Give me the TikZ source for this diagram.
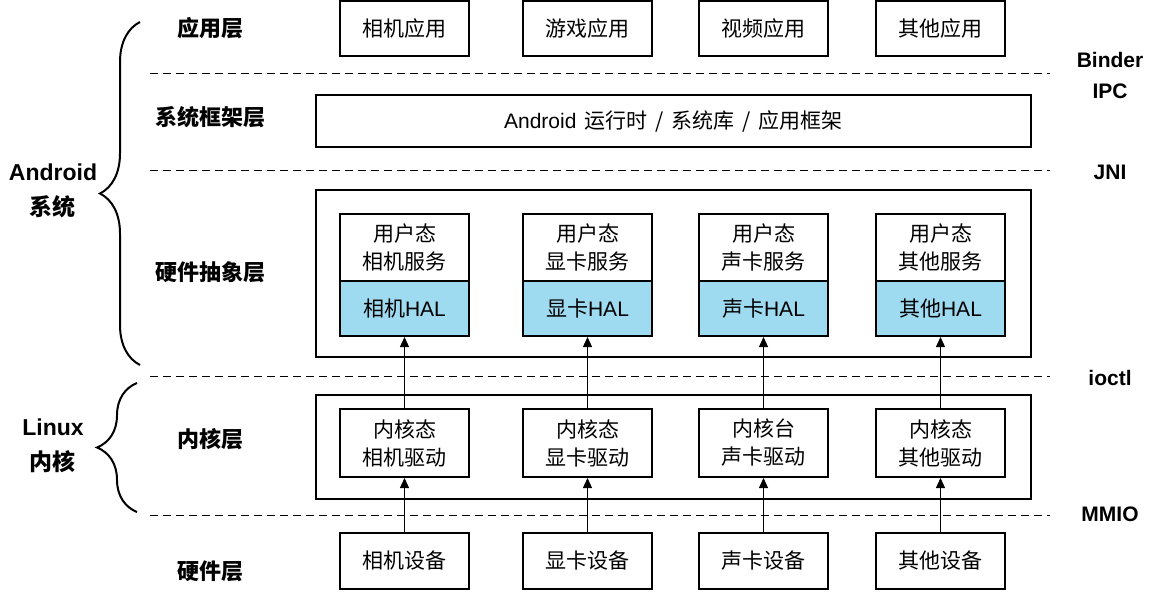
\documentclass[tikz,border=0pt]{standalone}
\usepackage{fontspec}
\setmainfont{Noto Sans CJK SC}
\newfontfamily\lat{Liberation Sans}
\usetikzlibrary{arrows.meta,decorations.pathreplacing}
\definecolor{halblue}{RGB}{158,218,240}

\begin{document}
\begin{tikzpicture}[x=0.5pt,y=-0.5pt,%
      box/.style={draw,line width=1pt,minimum width=64.5pt,inner sep=0pt,%
        align=center,font=\fontsize{10.5}{14}\selectfont},%
      frame/.style={draw,line width=1pt,inner sep=0pt,minimum width=357.5pt},%
      hal/.style={box,fill=halblue,minimum height=27.5pt},%
      layer/.style={font=\bfseries\fontsize{11}{14}\selectfont},%
      group/.style={align=center,font=\bfseries\fontsize{11.5}{17.5}\selectfont},%
      iface/.style={align=center,font=\lat\bfseries\fontsize{10.5}{15.5}\selectfont},%
      sep/.style={dash pattern=on 4pt off 2.5pt,line width=0.5pt},%
      up/.style={-{Triangle[length=5pt,width=4.5pt]},line width=0.6pt},%
      brc/.style={decorate,decoration={brace,amplitude=20pt},line width=1pt}%
      ]
      \useasboundingbox (0,0) rectangle (1152,594);%
      %% layer names
      \node[layer] (lapp) at (210,28) {应用层};%
      \node[layer] (lfw) at (210,117) {系统框架层};%
      \node[layer] (lhal) at (210,272) {硬件抽象层};%
      \node[layer] (lker) at (210,439) {内核层};%
      \node[layer] (lhw) at (210,571) {硬件层};%
      %% groups
      \draw[brc] (140,365) -- (140,22);%
      \draw[brc] (137,512) -- (137,383);%
      \node[group] (android) at (53,190.5) {{\lat Android}\\系统};%
      \node[group] (linux) at (53,445.5) {{\lat Linux}\\内核};%
      %% separators and interfaces
      \foreach \y in {73,170,376,515} {%
        \draw[sep] (150,\y) -- (1050,\y);%
      }%
      \node[iface] (binder) at (1110,75.5) {Binder\\IPC};%
      \node[iface] (jni) at (1110,172) {JNI};%
      \node[iface] (ioctl) at (1110,378) {ioctl};%
      \node[iface] (mmio) at (1110,514) {MMIO};%
      %% frames
      \node[frame,minimum height=26pt,font=\fontsize{10.5}{14}\selectfont]
      (fw) at (673.5,121) {{\lat Android}\hspace{4pt}运行时\hspace{4pt}/\hspace{4pt}系统库\hspace{4pt}/\hspace{4pt}应用框架};%
      \node[frame,minimum height=83.5pt] (halframe) at (673.5,273.5) {};%
      \node[frame,minimum height=52pt] (kframe) at (673.5,447) {};%
      %% columns
      \foreach \i/\x/\app/\dev/\k in
      {1/404.5/相机应用/相机/内核态,2/587.5/游戏应用/显卡/内核态,
        3/763.5/视频应用/声卡/内核台,4/940.5/其他应用/其他/内核态} {%
        \node[box,minimum height=27.5pt] (app\i) at (\x,28.5) {\app};%
        \node[box,minimum height=33.5pt] (svc\i) at (\x,247.5) {用户态\\\dev 服务};%
        \node[hal] (hal\i) at (\x,308.5) {\dev{\lat HAL}};%
        \node[box,minimum height=34pt] (drv\i) at (\x,443) {\k\\\dev 驱动};%
        \node[box,minimum height=28pt] (dev\i) at (\x,561) {\dev 设备};%
        \draw[up] (dev\i) -- (drv\i);%
        \draw[up] (drv\i) -- (hal\i);%
      }%
    \end{tikzpicture}
\end{document}
